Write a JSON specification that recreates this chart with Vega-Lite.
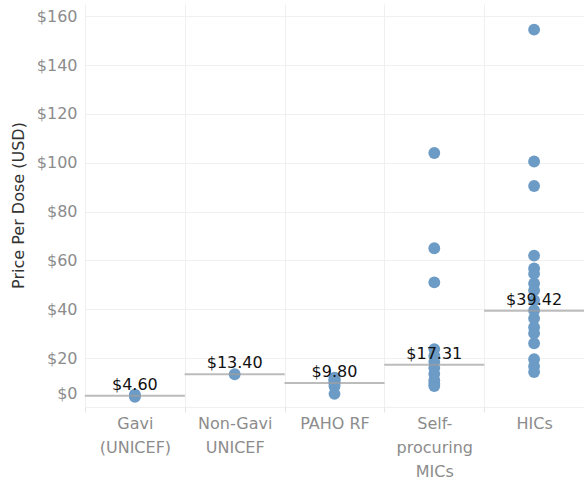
{
  "$schema": "https://vega.github.io/schema/vega-lite/v6.json",
  "autosize": "none",
  "width": 499,
  "height": 403,
  "padding": {"left": 85, "top": 4, "right": 0, "bottom": 72},
  "background": "white",
  "config": {
    "font": "DejaVu Sans",
    "view": {"stroke": null}
  },
  "datasets": {
    "points": [
      {"group": "Gavi (UNICEF)", "price": 4.2},
      {"group": "Gavi (UNICEF)", "price": 4.5},
      {"group": "Gavi (UNICEF)", "price": 5.1},
      {"group": "Non-Gavi UNICEF", "price": 13.4},
      {"group": "PAHO RF", "price": 12.0},
      {"group": "PAHO RF", "price": 11.4},
      {"group": "PAHO RF", "price": 11.0},
      {"group": "PAHO RF", "price": 10.6},
      {"group": "PAHO RF", "price": 10.0},
      {"group": "PAHO RF", "price": 9.5},
      {"group": "PAHO RF", "price": 8.5},
      {"group": "PAHO RF", "price": 5.4},
      {"group": "Self-procuring MICs", "price": 104},
      {"group": "Self-procuring MICs", "price": 65},
      {"group": "Self-procuring MICs", "price": 51},
      {"group": "Self-procuring MICs", "price": 23.7},
      {"group": "Self-procuring MICs", "price": 21},
      {"group": "Self-procuring MICs", "price": 18.5},
      {"group": "Self-procuring MICs", "price": 16},
      {"group": "Self-procuring MICs", "price": 13.5},
      {"group": "Self-procuring MICs", "price": 11},
      {"group": "Self-procuring MICs", "price": 9.5},
      {"group": "Self-procuring MICs", "price": 8.6},
      {"group": "HICs", "price": 154.5},
      {"group": "HICs", "price": 100.5},
      {"group": "HICs", "price": 90.5},
      {"group": "HICs", "price": 62},
      {"group": "HICs", "price": 56.7},
      {"group": "HICs", "price": 54.5},
      {"group": "HICs", "price": 50.6},
      {"group": "HICs", "price": 47.8},
      {"group": "HICs", "price": 43.7},
      {"group": "HICs", "price": 39.6},
      {"group": "HICs", "price": 36.3},
      {"group": "HICs", "price": 32.7},
      {"group": "HICs", "price": 30.2},
      {"group": "HICs", "price": 26.1},
      {"group": "HICs", "price": 19.6},
      {"group": "HICs", "price": 16.7},
      {"group": "HICs", "price": 14.3}
    ],
    "means": [
      {"group": "Gavi (UNICEF)", "mean": 4.60, "label": "$4.60"},
      {"group": "Non-Gavi UNICEF", "mean": 13.40, "label": "$13.40"},
      {"group": "PAHO RF", "mean": 9.80, "label": "$9.80"},
      {"group": "Self-procuring MICs", "mean": 17.31, "label": "$17.31"},
      {"group": "HICs", "mean": 39.42, "label": "$39.42"}
    ]
  },
  "encoding": {
    "x": {
      "field": "group",
      "type": "nominal",
      "sort": ["Gavi (UNICEF)", "Non-Gavi UNICEF", "PAHO RF", "Self-procuring MICs", "HICs"],
      "scale": {"paddingInner": 0, "paddingOuter": 0},
      "axis": {
        "title": null,
        "labelAngle": 0,
        "domain": false,
        "tickBand": "extent",
        "ticks": true,
        "tickSize": 5,
        "tickColor": "#e6e6e6",
        "grid": true,
        "gridColor": "#f0f0f0",
        "labelFontSize": 16,
        "labelColor": "#8c8c8c",
        "labelPadding": 3,
        "labelLineHeight": 24,
        "labelBaseline": "top",
        "labelExpr": "datum.value == 'Gavi (UNICEF)' ? ['Gavi', '(UNICEF)'] : datum.value == 'Non-Gavi UNICEF' ? ['Non-Gavi', 'UNICEF'] : datum.value == 'Self-procuring MICs' ? ['Self-', 'procuring', 'MICs'] : datum.value"
      }
    }
  },
  "layer": [
    {
      "data": {"name": "points"},
      "mark": {"type": "circle", "size": 140, "opacity": 1, "color": "#6c9bc6"},
      "encoding": {
        "y": {
          "field": "price",
          "type": "quantitative",
          "scale": {"domain": [0, 165], "nice": false, "zero": true},
          "axis": {
            "title": "Price Per Dose (USD)",
            "titleFontSize": 16,
            "titleColor": "#333333",
            "titleFontWeight": "normal",
            "titleX": -67,
            "titleY": 201,
            "titleAngle": 270,
            "titleAlign": "center",
            "titleBaseline": "middle",
            "values": [0, 20, 40, 60, 80, 100, 120, 140, 160],
            "labelExpr": "'$' + datum.value",
            "labelFontSize": 16,
            "labelColor": "#8c8c8c",
            "labelPadding": 8,
            "labelFlush": true,
            "labelFlushOffset": -6,
            "domain": false,
            "ticks": false,
            "grid": true,
            "gridColor": "#f0f0f0"
          }
        }
      }
    },
    {
      "data": {"name": "means"},
      "mark": {"type": "tick", "orient": "horizontal", "size": 100, "thickness": 2, "color": "#a0a0a0"},
      "encoding": {
        "y": {"field": "mean", "type": "quantitative"}
      }
    },
    {
      "data": {"name": "means"},
      "mark": {"type": "text", "baseline": "alphabetic", "dy": -6, "fontSize": 16, "color": "#111111"},
      "encoding": {
        "y": {"field": "mean", "type": "quantitative"},
        "text": {"field": "label"}
      }
    }
  ]
}
